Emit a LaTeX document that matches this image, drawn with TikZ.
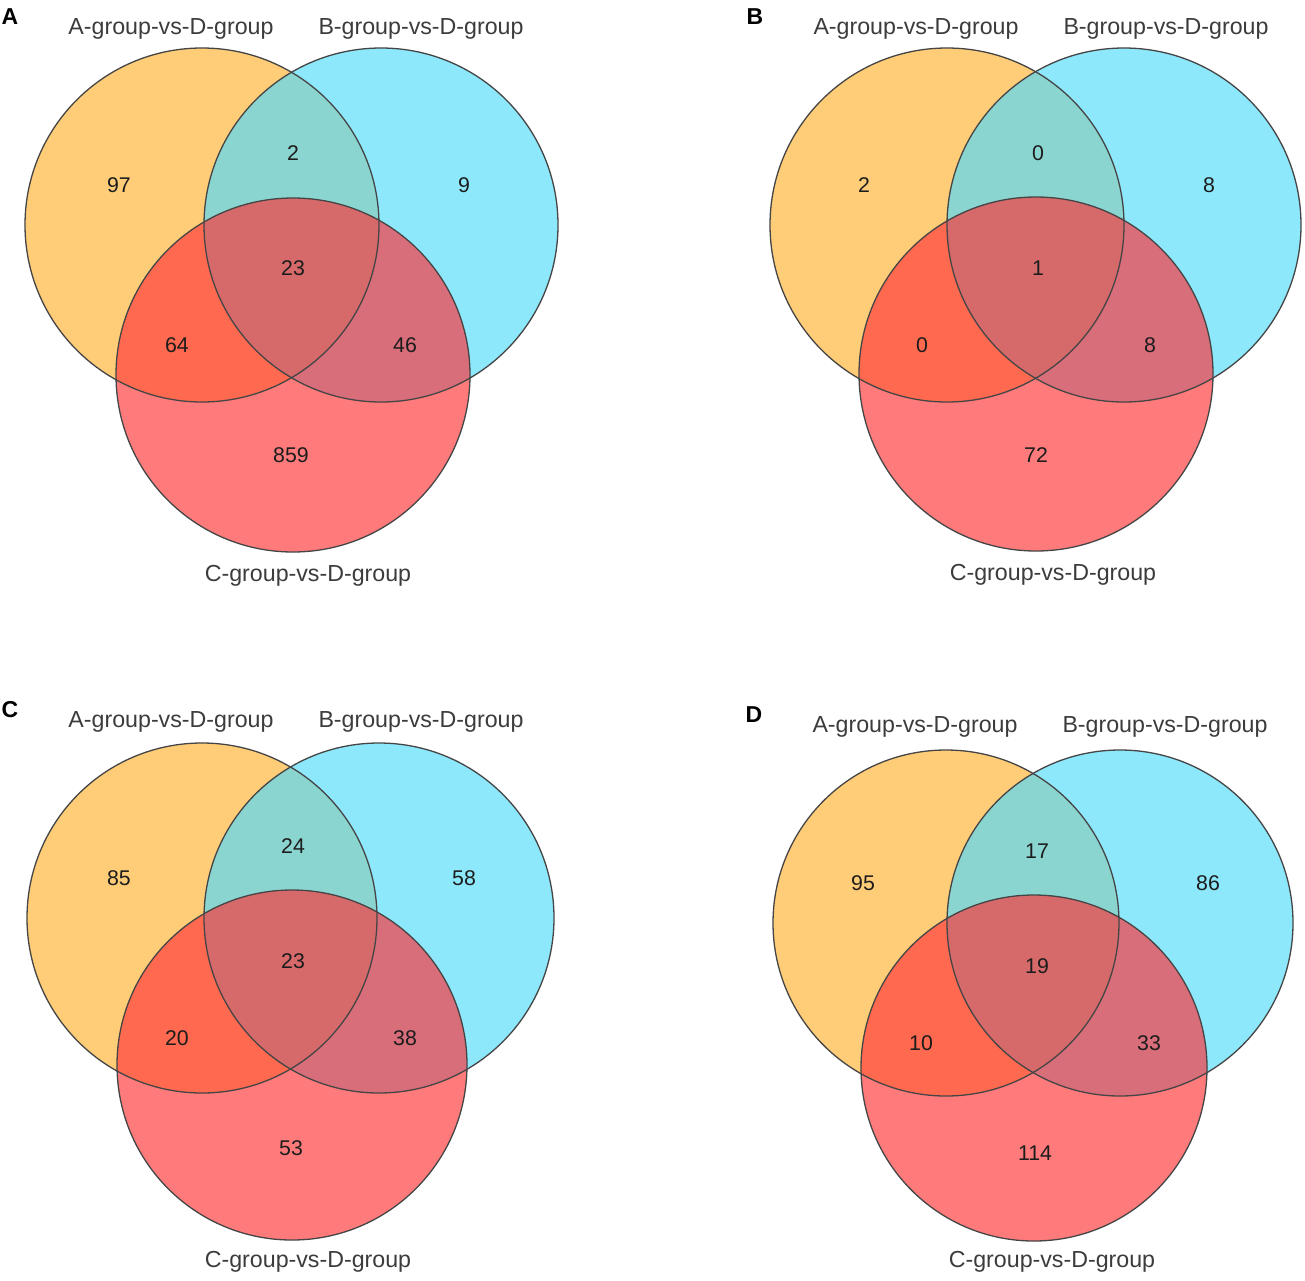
\documentclass[tikz,border=0pt]{standalone}
\usepackage{fontspec}
\setmainfont{Liberation Sans}
\definecolor{colA}{HTML}{FFCD78}
\definecolor{colB}{HTML}{8EE8FC}
\definecolor{colC}{HTML}{FF7B7B}
\definecolor{colAB}{HTML}{8BD5D1}
\definecolor{colAC}{HTML}{FF6950}
\definecolor{colBC}{HTML}{D86E7A}
\definecolor{colABC}{HTML}{D66A6B}
\definecolor{edgecol}{HTML}{454545}
\definecolor{labcol}{HTML}{3C3C3C}
\definecolor{numcol}{HTML}{1C1C1C}
\tikzset{
  lab/.style={text=labcol, font=\fontsize{23.2}{28}\selectfont, inner sep=0pt},
  num/.style={text=numcol, font=\fontsize{21.3}{26}\selectfont, inner sep=0pt},
  tag/.style={text=black, font=\fontsize{23}{28}\selectfont\bfseries, inner sep=0pt},
  ring/.style={draw=edgecol, line width=1.3pt}
}
% per-panel geometry: B centre x, C centre x, C centre y, radius, C label y
\newcommand\vbx{381}
\newcommand\vcx{293}
\newcommand\vcy{376}
\newcommand\vr{177}
\newcommand\vly{577}
\newcommand\setgeom[5]{\renewcommand\vbx{#1}\renewcommand\vcx{#2}\renewcommand\vcy{#3}\renewcommand\vr{#4}\renewcommand\vly{#5}}
\newcommand\circA{(202,225) circle[radius=\vr]}
\newcommand\circB{(\vbx,225) circle[radius=\vr]}
\newcommand\circC{(\vcx,\vcy) circle[radius=\vr]}
\newcommand\vennbase[2]{%
  \fill[colA] \circA;
  \fill[colB] \circB;
  \begin{scope}\clip \circA; \fill[colAB] \circB;\end{scope}
  \fill[colC] \circC;
  \begin{scope}\clip \circA; \fill[colAC] \circC;\end{scope}
  \begin{scope}\clip \circB; \fill[colBC] \circC;\end{scope}
  \begin{scope}\clip \circA; \clip \circB; \fill[colABC] \circC;\end{scope}
  \draw[ring] \circA;
  \draw[ring] \circB;
  \draw[ring] \circC;
  \coordinate (#1-cA) at (202,225);
  \coordinate (#1-cB) at (\vbx,225);
  \coordinate (#1-cC) at (\vcx,\vcy);
  \node[tag] (#1-tag) at (10,17) {#2};
  \node[lab] (#1-la) at (171,29) {A-group-vs-D-group};
  \node[lab] (#1-lb) at (421,29) {B-group-vs-D-group};
  \node[lab] (#1-lc) at (308,\vly) {C-group-vs-D-group};
}
\newcommand\vennnums[8]{%
  \node[num] (#1-a) at (119,185) {#2};
  \node[num] (#1-ab) at (293,153) {#3};
  \node[num] (#1-b) at (464,185) {#4};
  \node[num] (#1-abc) at (293,268) {#5};
  \node[num] (#1-ac) at (177,345) {#6};
  \node[num] (#1-bc) at (405,345) {#7};
  \node[num] (#1-c) at (291,455) {#8};
}
\begin{document}
\begin{tikzpicture}[x=1pt,y=-1pt]
\useasboundingbox[fill=white] (0,0) rectangle (1305,1280);
\begin{scope}
  \setgeom{381}{293}{375}{177}{576}
  \vennbase{pa}{A}
  \vennnums{pa}{97}{2}{9}{23}{64}{46}{859}
\end{scope}
\begin{scope}[shift={(745,0)}]
  \setgeom{379}{291}{374}{177}{575}
  \vennbase{pb}{B}
  \vennnums{pb}{2}{0}{8}{1}{0}{8}{72}
\end{scope}
\begin{scope}[shift={(0,693)}]
  \setgeom{379}{292}{372}{175}{569}
  \vennbase{pc}{C}
  \vennnums{pc}{85}{24}{58}{23}{20}{38}{53}
\end{scope}
\begin{scope}[shift={(744,698)}]
  \setgeom{376}{290}{370}{173}{564}
  \vennbase{pd}{D}
  \vennnums{pd}{95}{17}{86}{19}{10}{33}{114}
\end{scope}
\end{tikzpicture}
\end{document}
